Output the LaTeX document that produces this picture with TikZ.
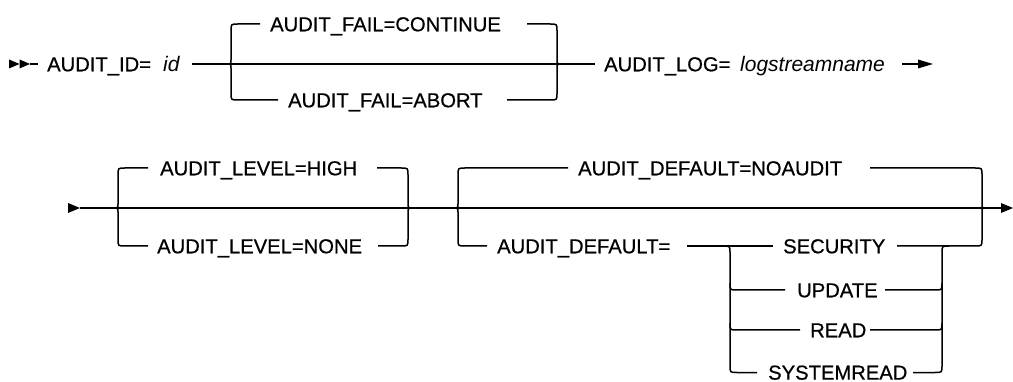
\documentclass[tikz,border=0pt]{standalone}
\usepackage{fontspec}
\setmainfont{Liberation Sans}
\newfontfamily\kwfam{Liberation Sans}[FakeBold=0.6]
\newcommand\kwfont{\kwfam\fontsize{20.2}{24}\selectfont}
\newcommand\varfont{\fontsize{21}{25}\selectfont\itshape}
\begin{document}
\begin{tikzpicture}[x=1pt,y=-1pt,
  rail/.style={line width=1.5pt},
  kw/.style={anchor=base west,inner sep=0pt,font=\kwfont},
  var/.style={anchor=base west,inner sep=0pt,font=\varfont},
  tip/.style={fill=black}]
\useasboundingbox (0,0) rectangle (1013,382);
% ---------------- Row 1 ----------------
\coordinate (s1) at (30,64);
\fill[tip] (9,59.5) -- (19.5,64) -- (9,68.5) -- cycle;
\fill[tip] (19.5,59.5) -- (30,64) -- (19.5,68.5) -- cycle;
\draw[rail] (s1) -- (38,64);
\node[kw] (aid) at (47,71.3) {AUDIT\_ID=};
\node[var] (id) at (163,71.3) {id};
\coordinate (b1l) at (227,64);
\coordinate (b1r) at (563,64);
\draw[rail] (192,64) -- (b1l) -- (b1r) -- (595,64);
\draw[rail] (b1l) .. controls (231,64) .. (231,60) -- (231,31) .. controls (231,24) .. (238,24) -- (260,24);
\draw[rail] (b1l) .. controls (231,64) .. (231,68) -- (231,93) .. controls (231,100) .. (238,100) -- (278,100);
\node[kw] (cont) at (270,31.3) {AUDIT\_FAIL=CONTINUE};
\node[kw] (abrt) at (288,107.3) {AUDIT\_FAIL=ABORT};
\draw[rail] (527,24) -- (550,24) .. controls (557,24) .. (557,31) -- (557,60) .. controls (557,64) .. (b1r);
\draw[rail] (507,100) -- (550,100) .. controls (557,100) .. (557,93) -- (557,68) .. controls (557,64) .. (b1r);
\node[kw] (alog) at (604,71.3) {AUDIT\_LOG=};
\node[var] (lsn) at (740,71.3) {logstreamname};
\coordinate (e1) at (933,64);
\draw[rail] (902,64) -- (920,64);
\fill[tip] (918,59.5) -- (e1) -- (918,68.5) -- cycle;
% ---------------- Row 2 ----------------
\coordinate (s2) at (80,208);
\fill[tip] (68,203) -- (s2) -- (68,213) -- cycle;
\coordinate (b2l) at (113,208);
\coordinate (b2r) at (415,208);
\coordinate (b3l) at (452,208);
\coordinate (b3r) at (987,208);
\coordinate (e2) at (1013,208);
\draw[rail] (s2) -- (b2l) -- (b2r) -- (b3l) -- (b3r) -- (1002,208);
\fill[tip] (1001,203) -- (e2) -- (1001,213) -- cycle;
% level choice
\draw[rail] (b2l) .. controls (118,208) .. (118,204) -- (118,175) .. controls (118,168) .. (125,168) -- (148,168);
\draw[rail] (b2l) .. controls (118,208) .. (118,212) -- (118,239) .. controls (118,246) .. (125,246) -- (148,246);
\node[kw] (high) at (160,175.3) {AUDIT\_LEVEL=HIGH};
\node[kw] (none) at (157,253.3) {AUDIT\_LEVEL=NONE};
\draw[rail] (377,168) -- (401,168) .. controls (408,168) .. (408,175) -- (408,204) .. controls (408,208) .. (b2r);
\draw[rail] (378,246) -- (401,246) .. controls (408,246) .. (408,239) -- (408,212) .. controls (408,208) .. (b2r);
% default choice
\draw[rail] (b3l) .. controls (458,208) .. (458,204) -- (458,175) .. controls (458,168) .. (465,168) -- (568,168);
\draw[rail] (b3l) .. controls (458,208) .. (458,212) -- (458,239) .. controls (458,246) .. (465,246) -- (487,246);
\node[kw] (noaud) at (578,175.3) {AUDIT\_DEFAULT=NOAUDIT};
\node[kw] (adef) at (497,253.3) {AUDIT\_DEFAULT=};
\draw[rail] (870,168) -- (975,168) .. controls (982,168) .. (982,175) -- (982,204) .. controls (982,208) .. (b3r);
\draw[rail] (897,246) -- (975,246) .. controls (982,246) .. (982,239) -- (982,212) .. controls (982,208) .. (b3r);
% inner choice
\coordinate (ijl) at (730,246);
\coordinate (ijr) at (942,246);
\draw[rail] (687,246) -- (773,246);
\node[kw] (sec) at (783,253.3) {SECURITY};
\node[kw] (upd) at (797,297.3) {UPDATE};
\node[kw] (rd) at (810,337.3) {READ};
\node[kw] (srd) at (768,379.6) {SYSTEMREAD};
\draw[rail] (723,246) .. controls (730,246) .. (730,253) -- (730,365.5) .. controls (730,372.5) .. (737,372.5) -- (757,372.5);
\draw[rail] (730,283) .. controls (730,290) .. (737,290) -- (785,290);
\draw[rail] (730,323) .. controls (730,330) .. (737,330) -- (800,330);
\draw[rail] (913,372.5) -- (935,372.5) .. controls (942,372.5) .. (942,365.5) -- (942,253) .. controls (942,246) .. (949,246);
\draw[rail] (885,290) -- (935,290) .. controls (942,290) .. (942,283);
\draw[rail] (870,330) -- (935,330) .. controls (942,330) .. (942,323);
\end{tikzpicture}
\end{document}
